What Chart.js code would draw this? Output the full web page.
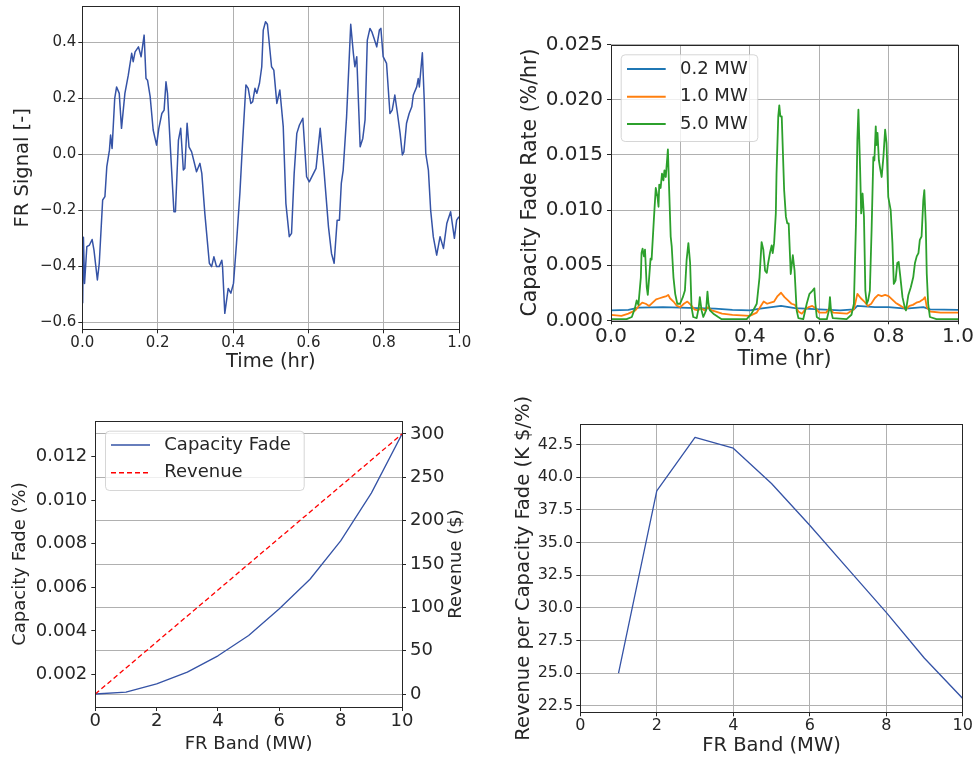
<!DOCTYPE html>
<html>
<head>
<meta charset="utf-8">
<script src="https://cdn.jsdelivr.net/npm/chart.js@4.4.1/dist/chart.umd.min.js"></script>
<style>
  html, body { margin: 0; padding: 0; background: #fff; overflow: hidden; width: 974px; height: 759px; }
  canvas { position: absolute; }
</style>
</head>
<body>
<canvas id="signal" width="490" height="380" style="left:0;top:0;width:490px;height:380px"></canvas>
<canvas id="fadeRate" width="500" height="380" style="left:500px;top:0;width:500px;height:380px"></canvas>
<canvas id="fadeRevenue" width="480" height="379" style="left:0;top:380px;width:480px;height:379px"></canvas>
<canvas id="revPerFade" width="510" height="379" style="left:490px;top:380px;width:510px;height:379px"></canvas>
<script>
// ---- FR signal (top left) ----
const frTime = [0.001,0.003,0.006,0.012,0.019,0.026,0.031,0.040,0.045,0.054,0.060,0.065,0.072,0.075,0.079,0.086,0.091,0.098,0.104,0.113,
  0.122,0.131,0.135,0.140,0.149,0.156,0.164,0.169,0.173,0.180,0.188,0.197,0.203,0.211,0.217,0.222,0.226,0.234,0.243,0.247,
  0.255,0.261,0.268,0.272,0.278,0.283,0.290,0.303,0.312,0.317,0.325,0.337,0.343,0.349,0.356,0.363,0.370,0.372,0.378,0.387,
  0.394,0.401,0.409,0.418,0.425,0.434,0.440,0.447,0.452,0.458,0.463,0.470,0.476,0.480,0.486,0.491,0.496,0.502,0.508,0.516,
  0.524,0.533,0.540,0.549,0.555,0.562,0.569,0.576,0.585,0.595,0.602,0.611,0.620,0.631,0.641,0.653,0.661,0.668,0.676,0.682,
  0.687,0.692,0.701,0.707,0.712,0.719,0.723,0.728,0.737,0.744,0.750,0.756,0.763,0.768,0.774,0.781,0.788,0.792,0.798,0.807,
  0.816,0.822,0.829,0.836,0.843,0.849,0.853,0.860,0.867,0.874,0.878,0.887,0.891,0.894,0.902,0.907,0.911,0.918,0.924,0.931,
  0.940,0.949,0.958,0.967,0.977,0.987,0.993,0.999];
const frSignal = [-0.532,-0.296,-0.461,-0.330,-0.324,-0.304,-0.342,-0.449,-0.389,-0.163,-0.151,-0.044,0.015,0.069,0.021,0.200,0.241,0.218,0.093,0.218,
  0.283,0.361,0.331,0.366,0.384,0.349,0.426,0.271,0.265,0.206,0.087,0.033,0.093,0.146,0.158,0.259,0.218,0.015,-0.205,-0.205,
  0.051,0.093,-0.056,-0.050,0.111,0.027,0.009,-0.062,-0.032,-0.068,-0.211,-0.389,-0.401,-0.366,-0.401,-0.401,-0.378,-0.401,-0.568,-0.479,
  -0.496,-0.461,-0.318,-0.139,0.039,0.248,0.236,0.182,0.188,0.236,0.218,0.254,0.313,0.444,0.474,0.465,0.396,0.313,0.301,0.182,
  0.230,0.099,-0.175,-0.294,-0.282,-0.068,0.075,0.105,0.129,-0.080,-0.098,-0.074,-0.050,0.093,-0.056,-0.259,-0.354,-0.389,-0.235,-0.235,
  -0.104,-0.056,0.134,0.313,0.465,0.361,0.313,0.349,0.027,0.057,0.123,0.408,0.450,0.438,0.414,0.384,0.444,0.450,0.349,0.325,
  0.146,0.158,0.212,0.146,0.075,-0.002,0.009,0.111,0.146,0.170,0.212,0.241,0.271,0.241,0.363,0.194,0.004,-0.056,-0.199,-0.294,
  -0.360,-0.294,-0.336,-0.246,-0.205,-0.300,-0.235,-0.223];

// ---- capacity fade rate (top right) ----
const rate02Time = [0,0.05,0.08,0.15,0.2,0.25,0.3,0.35,0.4,0.43,0.49,0.53,0.56,0.6,0.66,0.7,0.71,0.76,0.8,0.85,0.9,0.92,1.0];
const rate02 = [0.0009,0.00095,0.00115,0.0012,0.00115,0.0011,0.00105,0.00095,0.0009,0.00105,0.0013,0.0011,0.00105,0.001,0.0009,0.001,0.0013,0.0012,0.0012,0.00105,0.0012,0.001,0.00095];

const rate10Time = [0,0.03,0.05,0.07,0.08,0.09,0.10,0.11,0.12,0.13,0.14,0.15,0.16,0.165,0.17,0.18,0.19,0.20,0.21,0.22,0.23,0.24,0.25,0.26,0.27,0.28,0.29,0.30,0.32,0.35,0.40,
  0.42,0.43,0.44,0.45,0.46,0.47,0.48,0.49,0.50,0.51,0.52,0.53,0.54,0.55,0.56,0.57,0.58,0.59,0.60,0.62,0.63,0.64,0.68,0.70,0.71,0.72,0.73,0.74,0.75,
  0.76,0.77,0.78,0.79,0.80,0.81,0.82,0.83,0.84,0.85,0.86,0.87,0.88,0.89,0.90,0.905,0.91,0.92,0.95,1.0];
const rate10 = [0.0005,0.0004,0.0006,0.0009,0.0013,0.0016,0.0015,0.0013,0.0016,0.0019,0.0020,0.0021,0.0022,0.0023,0.0020,0.0017,0.0013,0.0012,0.0015,0.0017,0.0014,0.0010,0.0009,0.0011,0.0009,0.0012,0.0009,0.0008,0.0006,0.0005,0.0004,
  0.0007,0.0012,0.0017,0.0015,0.0016,0.0017,0.0022,0.0025,0.0021,0.0018,0.0015,0.0014,0.0008,0.0006,0.0010,0.0012,0.0013,0.0011,0.0007,0.0007,0.0011,0.0007,0.0006,0.0010,0.0024,0.0020,0.0017,0.0013,0.0015,
  0.0020,0.0023,0.0022,0.0023,0.0022,0.0019,0.0016,0.0014,0.0012,0.0010,0.0013,0.0014,0.0016,0.0017,0.0019,0.0021,0.0012,0.0008,0.0007,0.0007];

const rate50Time = [0,0.045,0.060,0.069,0.074,0.079,0.086,0.088,0.091,0.095,0.098,0.103,0.106,0.110,0.114,0.117,0.124,0.129,0.134,0.137,
  0.139,0.143,0.147,0.151,0.154,0.158,0.160,0.164,0.167,0.172,0.175,0.180,0.185,0.191,0.199,0.207,0.213,0.218,0.223,0.228,
  0.232,0.237,0.247,0.253,0.256,0.261,0.266,0.274,0.278,0.281,0.285,0.295,0.309,0.319,0.391,0.405,0.420,0.428,0.434,0.439,
  0.444,0.449,0.453,0.458,0.463,0.466,0.470,0.475,0.477,0.482,0.485,0.488,0.492,0.499,0.504,0.508,0.512,0.518,0.524,0.529,
  0.535,0.540,0.554,0.564,0.572,0.581,0.586,0.589,0.593,0.602,0.622,0.628,0.631,0.634,0.639,0.679,0.693,0.700,0.706,0.710,
  0.713,0.718,0.721,0.725,0.729,0.733,0.737,0.741,0.746,0.751,0.756,0.759,0.763,0.765,0.768,0.772,0.775,0.780,0.785,0.790,
  0.794,0.799,0.806,0.811,0.815,0.820,0.825,0.829,0.834,0.840,0.847,0.850,0.857,0.864,0.871,0.876,0.881,0.886,0.890,0.895,
  0.900,0.903,0.907,0.910,0.914,0.919,0.938,1.000];
const rate50 = [0.0001,0.0001,0.0003,0.0011,0.0018,0.0014,0.0039,0.0061,0.0065,0.0058,0.0064,0.0030,0.0023,0.0039,0.0056,0.0055,0.0094,0.0120,0.0112,0.0103,
  0.0123,0.0120,0.0133,0.0127,0.0136,0.0130,0.0139,0.0155,0.0124,0.0076,0.0067,0.0039,0.0024,0.0015,0.0015,0.0021,0.0027,0.0055,0.0070,0.0052,
  0.0012,0.0003,0.0002,0.0012,0.0021,0.0009,0.0003,0.0009,0.0026,0.0015,0.0009,0.0006,0.0003,0.0001,0.0001,0.0006,0.0015,0.0039,0.0071,0.0064,
  0.0045,0.0043,0.0052,0.0061,0.0068,0.0061,0.0070,0.0097,0.0133,0.0185,0.0195,0.0185,0.0185,0.0118,0.0094,0.0088,0.0088,0.0042,0.0059,0.0045,
  0.0009,0.0002,0.0001,0.0015,0.0024,0.0027,0.0029,0.0015,0.0003,0.0001,0.0001,0.0009,0.0021,0.0009,0.0002,0.0001,0.0005,0.0015,0.0088,0.0164,
  0.0191,0.0136,0.0097,0.0115,0.0094,0.0027,0.0015,0.0018,0.0027,0.0082,0.0148,0.0145,0.0176,0.0159,0.0170,0.0145,0.0139,0.0130,0.0148,0.0173,
  0.0161,0.0112,0.0100,0.0070,0.0033,0.0036,0.0052,0.0053,0.0039,0.0021,0.0011,0.0009,0.0023,0.0030,0.0039,0.0052,0.0058,0.0061,0.0073,0.0076,
  0.0109,0.0118,0.0088,0.0042,0.0015,0.0003,0.0001,0.0001];

// ---- band sweep (bottom) ----
const bandMW = [0,1,2,3,4,5,6,7,8,9,10];
const capacityFade = [0.00111,0.0012,0.00157,0.00211,0.00286,0.00379,0.00502,0.00637,0.00813,0.01032,0.01303];
const revenue = [0,30,60,90,120,150,180,210,240,270,300];
const ratioBand = [1,2,3,4,5,6,7,8,9,10];
const revPerFade = [25.0,38.95,43.05,42.22,39.52,36.32,32.98,29.65,26.14,23.06];

// ---- tick values ----
const timeTicks = [0,0.2,0.4,0.6,0.8,1.0];
const signalTicks = [-0.6,-0.4,-0.2,0,0.2,0.4];
const rateTicks = [0,0.005,0.01,0.015,0.02,0.025];
const bandTicks = [0,2,4,6,8,10];
const fadeTicks = [0.002,0.004,0.006,0.008,0.010,0.012];
const revenueTicks = [0,50,100,150,200,250,300];
const ratioTicks = [22.5,25,27.5,30,32.5,35,37.5,40,42.5];

const INK = '#262626';
const LINE_BLUE = '#3553a6';
Chart.defaults.font.family = '"DejaVu Sans", sans-serif';
Chart.defaults.color = INK;
Chart.defaults.animation = false;

const pts = (xs, ys) => xs.map((x, i) => ({ x: x, y: ys[i] }));
const minus = s => s.replace('-', '\u2212');

function axis(o) {
  return {
    type: 'linear',
    position: o.position,
    min: o.min,
    max: o.max,
    afterBuildTicks: s => { s.ticks = o.ticks.map(v => ({ value: v })); },
    afterFit: s => {
      if (s.isHorizontal()) { s.height = o.size; s.paddingLeft = 0; s.paddingRight = 0; }
      else { s.width = o.size; s.paddingTop = 0; s.paddingBottom = 0; }
    },
    border: { display: false },
    grid: { drawOnChartArea: o.grid !== false, color: '#b0b0b0', lineWidth: 1, tickColor: INK, tickLength: 4 },
    ticks: { font: { size: o.tickSize }, color: INK, padding: o.pad, autoSkip: false, maxRotation: 0,
      callback: v => minus(o.fmt(v)) },
    title: o.title ? { display: true, text: o.title, color: INK, font: { size: o.titleSize }, padding: o.titlePad } : { display: false }
  };
}

// frame around the plot area, like matplotlib spines
const frame = {
  id: 'frame',
  afterDraw(chart) {
    const { ctx, chartArea: a } = chart;
    ctx.save();
    ctx.strokeStyle = INK;
    ctx.lineWidth = 1;
    ctx.strokeRect(Math.round(a.left) + 0.5, Math.round(a.top) + 0.5, Math.round(a.right - a.left), Math.round(a.bottom - a.top));
    ctx.restore();
  }
};

// legend box drawn inside the plot
const boxLegend = {
  id: 'boxLegend',
  afterDraw(chart, args, o) {
    if (!o || !o.rowY) return;
    const ctx = chart.ctx;
    const r = 4, x = o.x + 0.5, y = o.y + 0.5, w = o.w, h = o.h;
    ctx.save();
    ctx.beginPath();
    ctx.moveTo(x + r, y);
    ctx.arcTo(x + w, y, x + w, y + h, r);
    ctx.arcTo(x + w, y + h, x, y + h, r);
    ctx.arcTo(x, y + h, x, y, r);
    ctx.arcTo(x, y, x + w, y, r);
    ctx.closePath();
    ctx.fillStyle = 'rgba(255,255,255,0.8)';
    ctx.fill();
    ctx.strokeStyle = 'rgba(204,204,204,0.8)';
    ctx.lineWidth = 1;
    ctx.stroke();
    ctx.font = o.size + 'px "DejaVu Sans"';
    ctx.textBaseline = 'middle';
    ctx.textAlign = 'left';
    chart.data.datasets.forEach((ds, i) => {
      const ly = o.rowY[i];
      ctx.beginPath();
      ctx.setLineDash(ds.borderDash || []);
      ctx.strokeStyle = ds.borderColor;
      ctx.lineWidth = o.lineWidth || ds.borderWidth;
      ctx.moveTo(o.lineX[0], ly);
      ctx.lineTo(o.lineX[1], ly);
      ctx.stroke();
      ctx.setLineDash([]);
      ctx.fillStyle = INK;
      ctx.fillText(ds.label, o.textX, ly);
    });
    ctx.restore();
  }
};

// right-hand axis title, rotated the same way as the left one
const sideTitle = {
  id: 'sideTitle',
  afterDraw(chart, args, o) {
    if (!o || !o.text) return;
    const { ctx, chartArea: a } = chart;
    ctx.save();
    ctx.translate(o.x, (a.top + a.bottom) / 2);
    ctx.rotate(-Math.PI / 2);
    ctx.font = o.size + 'px "DejaVu Sans"';
    ctx.fillStyle = INK;
    ctx.textAlign = 'center';
    ctx.textBaseline = 'middle';
    ctx.fillText(o.text, 0, 0);
    ctx.restore();
  }
};

const common = {
  responsive: false,
  animation: false,
  events: [],
  elements: { point: { radius: 0 }, line: { tension: 0, borderJoinStyle: 'round' } },
};

// top left: FR signal
new Chart(document.getElementById('signal'), {
  type: 'line',
  data: { datasets: [{ label: 'FR Signal', data: pts(frTime, frSignal), borderColor: LINE_BLUE, borderWidth: 1.5 }] },
  options: Object.assign({}, common, {
    layout: { padding: { left: 0, top: 6.3, right: 30.7, bottom: 0 } },
    plugins: { legend: { display: false }, tooltip: { enabled: false } },
    scales: {
      x: axis({ position: 'bottom', min: 0, max: 1, ticks: timeTicks, size: 50.7, tickSize: 15, pad: 0.5,
        fmt: v => v.toFixed(1), title: 'Time (hr)', titleSize: 19.5, titlePad: { top: 0, bottom: 6.3 } }),
      y: axis({ position: 'left', min: -0.625, max: 0.529, ticks: signalTicks, size: 82.3, tickSize: 15, pad: 2,
        fmt: v => v.toFixed(1), title: 'FR Signal [-]', titleSize: 19.5, titlePad: { top: 11.6, bottom: 0 } })
    }
  }),
  plugins: [frame]
});

// top right: capacity fade rate
new Chart(document.getElementById('fadeRate'), {
  type: 'line',
  data: { datasets: [
    { label: '0.2 MW', data: pts(rate02Time, rate02), borderColor: '#1f77b4', borderWidth: 1.8, order: 3 },
    { label: '1.0 MW', data: pts(rate10Time, rate10), borderColor: '#ff7f0e', borderWidth: 1.8, order: 2 },
    { label: '5.0 MW', data: pts(rate50Time, rate50), borderColor: '#2ca02c', borderWidth: 1.8, order: 1 }
  ] },
  options: Object.assign({}, common, {
    layout: { padding: { left: 0, top: 44.7, right: 42, bottom: 0 } },
    plugins: {
      legend: { display: false }, tooltip: { enabled: false },
      boxLegend: { x: 120.7, y: 54.3, w: 136.6, h: 86.7, rowY: [69, 96.7, 124], lineX: [127, 165.7], textX: 180, size: 18, lineWidth: 2 }
    },
    scales: {
      x: axis({ position: 'bottom', min: 0, max: 1, ticks: timeTicks, size: 59.7, tickSize: 20, pad: 0,
        fmt: v => v.toFixed(1), title: 'Time (hr)', titleSize: 20.5, titlePad: { top: 0, bottom: 7.7 } }),
      y: axis({ position: 'left', min: 0, max: 0.025, ticks: rateTicks, size: 111, tickSize: 20, pad: 4,
        fmt: v => v.toFixed(3), title: 'Capacity Fade Rate (%/hr)', titleSize: 20.5, titlePad: { top: 18.7, bottom: 0 } })
    }
  }),
  plugins: [frame, boxLegend]
});

// bottom left: capacity fade and revenue vs band
new Chart(document.getElementById('fadeRevenue'), {
  type: 'line',
  data: { datasets: [
    { label: 'Capacity Fade', data: pts(bandMW, capacityFade), borderColor: LINE_BLUE, borderWidth: 1.3, yAxisID: 'y', order: 1 },
    { label: 'Revenue', data: pts(bandMW, revenue), borderColor: '#ff0000', borderWidth: 1.3, borderDash: [5, 3], yAxisID: 'y2', order: 0 }
  ] },
  options: Object.assign({}, common, {
    layout: { padding: { left: 0, top: 41, right: 0, bottom: 0 } },
    plugins: {
      legend: { display: false }, tooltip: { enabled: false },
      boxLegend: { x: 105, y: 50.7, w: 198.7, h: 59.3, rowY: [65, 92.7], lineX: [111, 150], textX: 164.3, size: 18, lineWidth: 1.5 },
      sideTitle: { text: 'Revenue ($)', x: 456.7, size: 18 }
    },
    scales: {
      x: axis({ position: 'bottom', min: 0, max: 10, ticks: bandTicks, size: 52, tickSize: 18, pad: 0, grid: false,
        fmt: v => String(Math.round(v)), title: 'FR Band (MW)', titleSize: 18, titlePad: { top: 0, bottom: 4.2 } }),
      y: axis({ position: 'left', min: 0.000514, max: 0.013626, ticks: fadeTicks, size: 95.3, tickSize: 18, pad: 4, grid: false,
        fmt: v => v.toFixed(3), title: 'Capacity Fade (%)', titleSize: 18, titlePad: { top: 10, bottom: 0 } }),
      y2: axis({ position: 'right', min: -15, max: 315, ticks: revenueTicks, size: 78, tickSize: 18, pad: 4,
        fmt: v => String(Math.round(v)) })
    }
  }),
  plugins: [frame, boxLegend, sideTitle]
});

// bottom right: revenue per capacity fade
new Chart(document.getElementById('revPerFade'), {
  type: 'line',
  data: { datasets: [{ label: 'Revenue per Capacity Fade', data: pts(ratioBand, revPerFade), borderColor: LINE_BLUE, borderWidth: 1.3 }] },
  options: Object.assign({}, common, {
    layout: { padding: { left: 0, top: 44.3, right: 37.3, bottom: 0 } },
    plugins: { legend: { display: false }, tooltip: { enabled: false } },
    scales: {
      x: axis({ position: 'bottom', min: 0, max: 10, ticks: bandTicks, size: 46.7, tickSize: 16, pad: 0,
        fmt: v => String(Math.round(v)), title: 'FR Band (MW)', titleSize: 19.5, titlePad: { top: 0, bottom: 1.6 } }),
      y: axis({ position: 'left', min: 22.0, max: 44.05, ticks: ratioTicks, size: 90.3, tickSize: 16, pad: 3,
        fmt: v => v.toFixed(1), title: 'Revenue per Capacity Fade (K $/%)', titleSize: 19.5, titlePad: { top: 22.6, bottom: 0 } })
    }
  }),
  plugins: [frame]
});
</script>
</body>
</html>
